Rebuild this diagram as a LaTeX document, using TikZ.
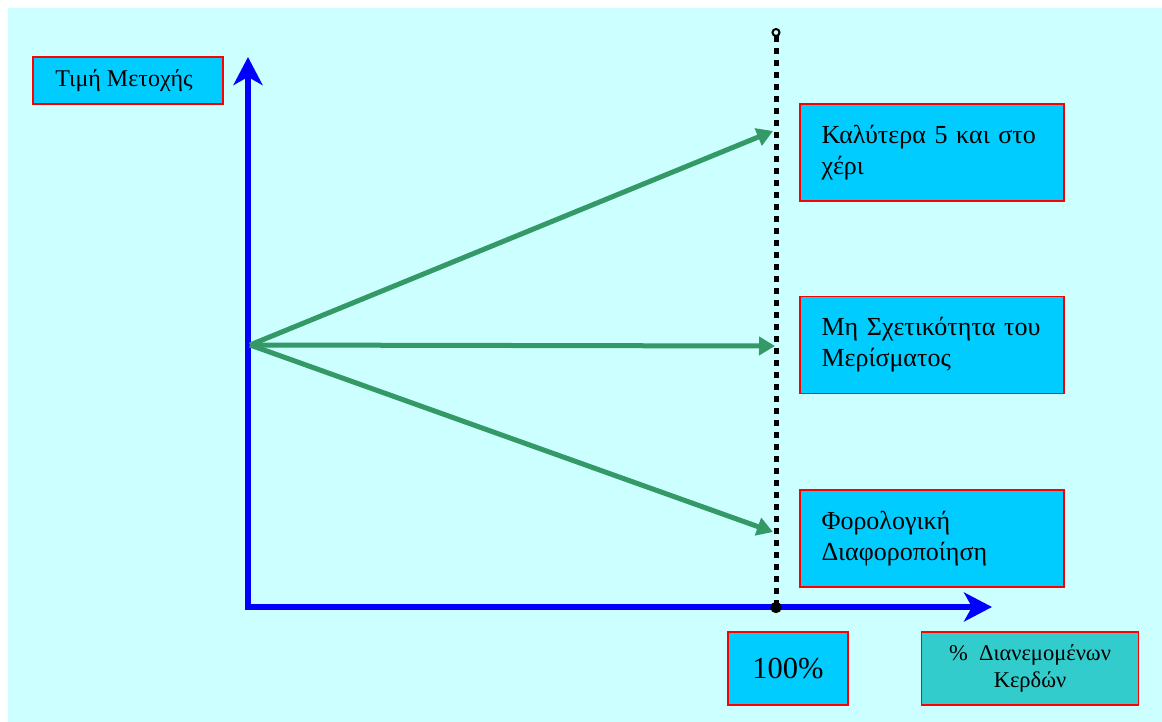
\documentclass[tikz,border=0pt]{standalone}
\usepackage{fontspec}
\setmainfont{Liberation Serif}
\usetikzlibrary{arrows.meta,positioning}
\definecolor{bgcyan}{RGB}{204,255,255}
\definecolor{boxblue}{RGB}{0,204,255}
\definecolor{boxteal}{RGB}{51,204,204}
\definecolor{arrowgreen}{RGB}{51,153,102}

\begin{document}
\begin{tikzpicture}[x=1pt,y=-1pt]
    \tikzstyle{axis}=[draw=blue,line width=6pt,
    arrows={Stealth[length=28pt,width=29pt,inset=8pt]-Stealth[length=28pt,width=29pt,inset=8pt]}]
    \tikzstyle{effect}=[draw=arrowgreen,line width=5pt,-{Triangle[length=16pt,width=18pt]}]
    \tikzstyle{limit}=[draw=black,line width=5pt,dash pattern=on 6pt off 6pt,
    arrows={Circle[open,length=9pt,width=9pt,line width=2pt]-Circle[length=11pt,width=11pt]}]

    \tikzstyle{quantity}=[rectangle,draw=red,line width=1.5pt,fill=boxblue,align=center,
    font=\fontsize{24}{28}\selectfont,minimum width=190pt,minimum height=47pt]
    \tikzstyle{reason}=[rectangle,draw=red,line width=1.5pt,fill=boxblue,align=left,
    text width=221pt,inner xsep=21.5pt,minimum height=97pt,font=\fontsize{26}{31}\selectfont]
    \tikzstyle{tick}=[quantity,font=\fontsize{30.5}{34}\selectfont,minimum width=120pt,minimum height=73pt]

    \fill[white] (0,0) rectangle (1162,722);
    \fill[bgcyan] (8,8) rectangle (1162,722);
    \useasboundingbox (0,0) rectangle (1162,722);

    \node[quantity](price) at (128,80.5){Τιμή Μετοχής\hspace{8pt}};
    \node[reason](better) at (932,152.5){Καλύτερα 5 και στο\\χέρι};
    \node[reason](irrelevant)[below=94pt of better]{Μη Σχετικότητα του\\Μερίσματος};
    \node[reason](tax)[below=95pt of irrelevant]{Φορολογική\\Διαφοροποίηση};
    \node[tick](full) at (788,668.5){100\%};
    \node[quantity,fill=boxteal,font=\fontsize{22.5}{27}\selectfont,minimum width=217pt,
    minimum height=73pt](payout)[right=72pt of full]{\%\ \ Διανεμομένων\\Κερδών};

    \coordinate (y_tip) at (248,57);
    \coordinate (x_tip) at (992,607);
    \coordinate (source) at (250,345);
    \coordinate (hit_high) at (773,131);
    \coordinate (hit_mid) at (775,346);
    \coordinate (hit_low) at (773,532);
    \coordinate (limit_top) at (776,28);
    \coordinate (limit_bottom) at (776,613);

    \draw[axis] (y_tip) |- (x_tip);

    \draw[effect] (source) -- (hit_high);
    \draw[effect] (source) -- (hit_mid);
    \draw[effect] (source) -- (hit_low);

    \draw[limit] (limit_top) -- (limit_bottom);
  \end{tikzpicture}
\end{document}
